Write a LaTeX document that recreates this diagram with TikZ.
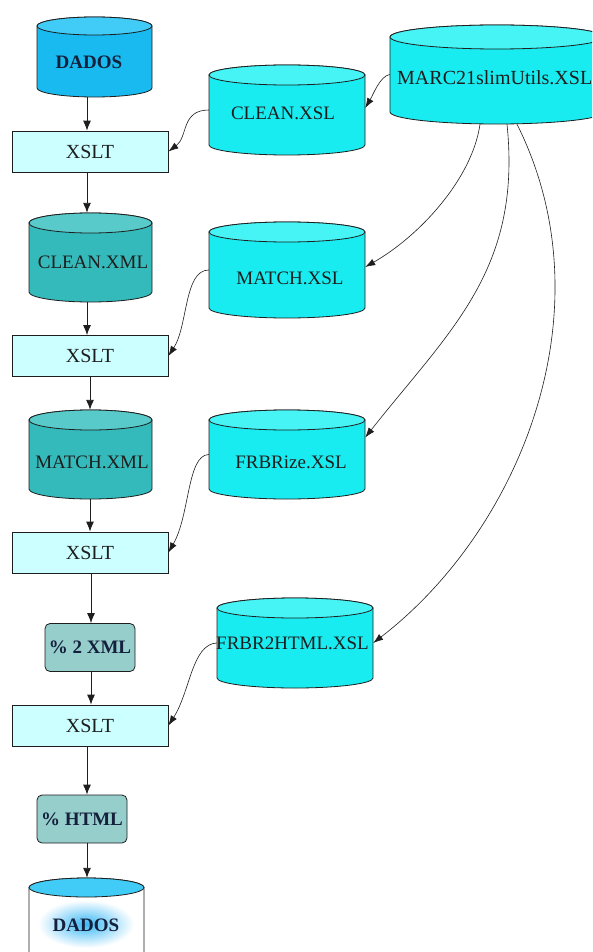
\documentclass[tikz,border=0pt]{standalone}
\usepackage{fontspec}
\setmainfont{Liberation Serif}
\usetikzlibrary{arrows.meta}
\definecolor{dadosbody}{RGB}{24,186,240}
\definecolor{dadostop}{RGB}{64,204,246}
\definecolor{xmlbody}{RGB}{52,186,186}
\definecolor{xmltop}{RGB}{88,202,202}
\definecolor{xslbody}{RGB}{24,236,240}
\definecolor{xsltop}{RGB}{70,244,246}
\definecolor{xsltfill}{RGB}{204,255,255}
\definecolor{pctfill}{RGB}{150,206,204}
\definecolor{glow}{RGB}{60,185,245}
\definecolor{linec}{RGB}{30,30,30}
\definecolor{dadostext}{RGB}{20,32,60}
% #1 name, #2 left, #3 right, #4 top, #5 bottom, #6 y radius, #7 body colour, #8 top colour
\newcommand\drawcyl[8]{%
  \pgfmathsetmacro\cylcx{(#2+#3)/2}%
  \pgfmathsetmacro\cylrx{(#3-#2)/2}%
  \pgfmathsetmacro\cylw{#3-#2}%
  \pgfmathsetmacro\cylyt{#4+#6}%
  \pgfmathsetmacro\cylyb{#5-#6}%
  \pgfmathsetmacro\cylh{#5-#4}%
  \pgfmathsetmacro\cylcy{(#4+#5)/2}%
  \path[cylline, fill=#7] (#2,\cylyt) -- (#2,\cylyb)
    arc[start angle=180, end angle=360, x radius=\cylrx pt, y radius=#6 pt]
    -- (#3,\cylyt)
    arc[start angle=0, end angle=180, x radius=\cylrx pt, y radius=#6 pt] -- cycle;
  \path[cylline, fill=#8] (\cylcx,\cylyt) ellipse[x radius=\cylrx pt, y radius=#6 pt];
  \node[draw=none, inner sep=0pt, minimum width=\cylw pt, minimum height=\cylh pt] (#1) at (\cylcx,\cylcy) {};
}
\begin{document}
\begin{tikzpicture}[x=1pt, y=-1pt,
  lbl/.style={font=\fontsize{19}{23}\selectfont, text=linec, inner sep=0pt},
  blbl/.style={font=\fontsize{19}{23}\selectfont\bfseries, text=dadostext, inner sep=0pt},
  boxx/.style={draw=linec, line width=0.8pt, fill=xsltfill, minimum width=156pt, minimum height=41pt,
    inner sep=0pt, font=\fontsize{20}{24}\selectfont, text=linec},
  pct/.style={draw=linec, line width=0.8pt, fill=pctfill, rounded corners=5pt, minimum width=90pt,
    minimum height=48pt, inner sep=0pt, font=\fontsize{19}{23}\selectfont\bfseries, text=dadostext},
  cylline/.style={draw=linec, line width=0.8pt},
  arr/.style={-{Latex[length=10pt,width=8pt]}, line width=0.9pt, draw=linec},
  conn/.style={-{Latex[length=10pt,width=7pt]}, line width=0.6pt, draw=linec}]
\fill[white] (0,0) rectangle (592,952);
\useasboundingbox (0,0) rectangle (592,952);
\clip (0,0) rectangle (592,952);

% left column cylinders
\drawcyl{dados1}{37}{152}{17}{97}{9}{dadosbody}{dadostop}
\drawcyl{cleanxml}{29}{152}{213}{302}{10}{xmlbody}{xmltop}
\drawcyl{matchxml}{29}{152}{410}{499}{10}{xmlbody}{xmltop}
\drawcyl{dados2}{29}{144}{878}{962}{9.5}{white}{dadostop}
\shade[inner color=glow, outer color=white] (86,924) ellipse[x radius=48pt, y radius=24pt];

% right cylinders
\drawcyl{marc}{390}{604}{25}{124}{12}{xslbody}{xsltop}
\drawcyl{cleanxsl}{209}{365}{65}{155}{10}{xslbody}{xsltop}
\drawcyl{matchxsl}{209}{365}{222}{318}{10}{xslbody}{xsltop}
\drawcyl{frbrize}{209}{365}{410}{499}{10}{xslbody}{xsltop}
\drawcyl{frbrhtml}{217}{373}{598}{688}{10}{xslbody}{xsltop}

% labels
\node[blbl] (dados1-t) at (89,62) {DADOS};
\node[lbl] (cleanxml-t) at (93,262) {CLEAN.XML};
\node[lbl] (matchxml-t) at (92,462) {MATCH.XML};
\node[blbl] (dados2-t) at (86,925) {DADOS};
\node[lbl] (cleanxsl-t) at (283,113) {CLEAN.XSL};
\node[lbl] (matchxsl-t) at (290,278) {MATCH.XSL};
\node[lbl] (frbrize-t) at (291,462) {FRBRize.XSL};
\node[lbl, anchor=west] (frbrhtml-t) at (216,643) {FRBR2HTML.XSL};
\node[lbl, anchor=west, font=\fontsize{20}{24}\selectfont] (marc-t) at (397,78) {MARC21slimUtils.XSL};

% boxes
\node[boxx] (xslt1) at (90,151.5) {XSLT};
\node[boxx] (xslt2) at (90,356) {XSLT};
\node[boxx] (xslt3) at (90,552.5) {XSLT};
\node[boxx] (xslt4) at (90,725.5) {XSLT};
\node[pct] (pctxml) at (90,647.5) {\% 2 XML};
\node[pct] (pcthtml) at (82,819) {\% HTML};

% main column arrows
\coordinate (c87) at (87,0);
\coordinate (c90) at (90,0);
\coordinate (c91) at (91,0);
\draw[arr] (dados1.south -| c87) -- (xslt1.north -| c87);
\draw[arr] (xslt1.south -| c87) -- (cleanxml.north -| c87);
\draw[arr] (cleanxml.south -| c87) -- (xslt2.north -| c87);
\draw[arr] (xslt2.south -| c90) -- (matchxml.north -| c90);
\draw[arr] (matchxml.south -| c90) -- (xslt3.north -| c90);
\draw[arr] (xslt3.south -| c91) -- (pctxml.north -| c91);
\draw[arr] (pctxml.south -| c91) -- (xslt4.north -| c91);
\draw[arr] (xslt4.south -| c87) -- (pcthtml.north -| c87);
\draw[arr] (pcthtml.south -| c87) -- (dados2.north -| c87);

% stylesheet connectors
\draw[conn] (cleanxsl.west) .. controls (181,110) and (188,137) .. (xslt1.east);
\draw[conn] (matchxsl.west) .. controls (184,270) and (188,326) .. (xslt2.east);
\draw[conn] (frbrize.west) .. controls (187,455) and (190,515) .. (xslt3.east);
\draw[conn] (frbrhtml.west) .. controls (192,644) and (190,692) .. (xslt4.east);

% MARC21 connectors
\draw[conn] (marc.west) .. controls (380,76) and (373,95) .. ([yshift=2pt]cleanxsl.east);
\draw[conn] ([xshift=-17pt]marc.south) .. controls (472,180) and (418,237) .. ([yshift=3pt]matchxsl.east);
\draw[conn] ([xshift=10pt]marc.south) .. controls (522,270) and (450,330) .. ([yshift=17pt]frbrize.east);
\draw[conn] ([xshift=20pt]marc.south) .. controls (610,310) and (520,530) .. (frbrhtml.east);
\end{tikzpicture}
\end{document}
